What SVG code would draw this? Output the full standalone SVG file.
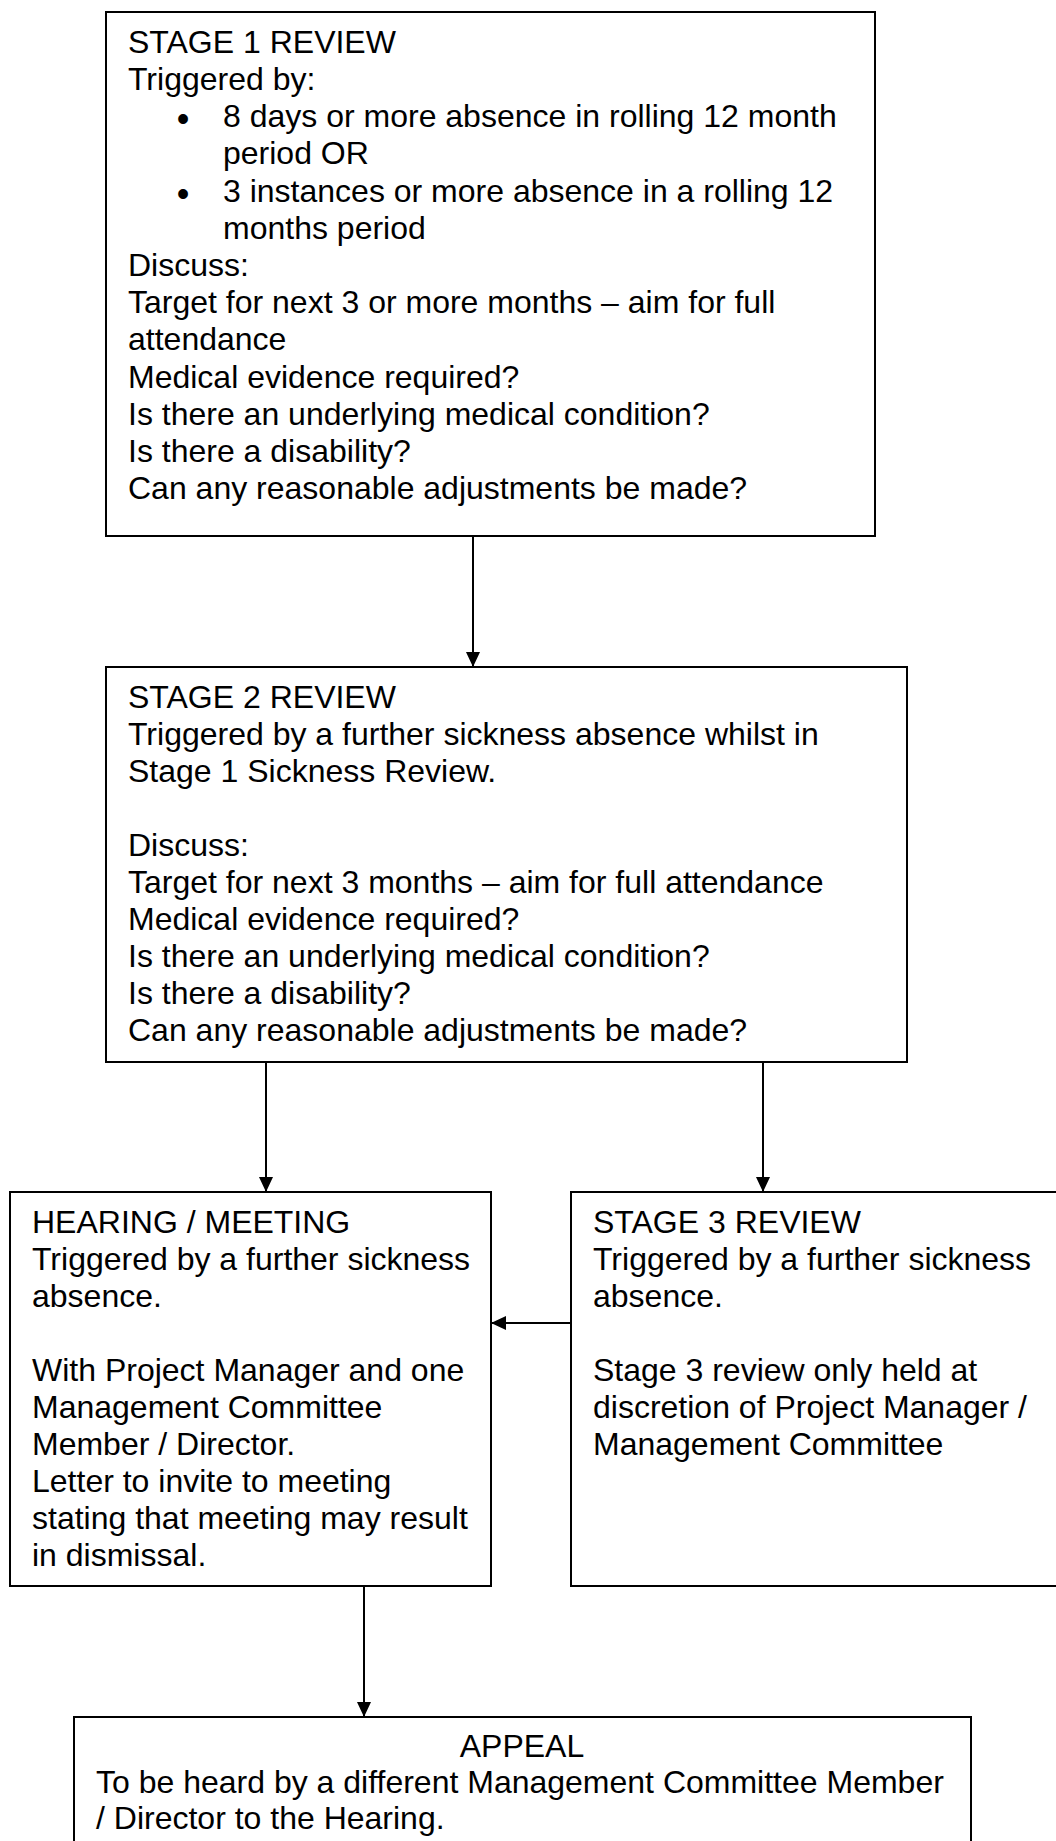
<svg xmlns="http://www.w3.org/2000/svg" width="1056" height="1841" viewBox="0 0 1056 1841">
<defs>
<style>
.box{fill:#fff;stroke:#000;stroke-width:2}
.t{font-family:"Liberation Sans",Arial,sans-serif;font-size:32px;fill:#000}
.c{text-anchor:middle}
.bul{font-family:"Liberation Sans",Arial,sans-serif;font-size:36px;fill:#000;text-anchor:middle}
.edge{stroke:#000;stroke-width:2;fill:none;marker-end:url(#ah)}
</style>
<marker id="ah" markerUnits="userSpaceOnUse" markerWidth="15" markerHeight="14" refX="15" refY="7" orient="auto">
<path d="M0,0 L15,7 L0,14 z" fill="#000"/>
</marker>
</defs>
<rect width="1056" height="1841" fill="#fff"/>
<g id="stage1">
<rect class="box" x="106" y="12" width="769" height="524"/>
<text class="t" x="128" y="53">STAGE 1 REVIEW</text>
<text class="t" x="128" y="90">Triggered by:</text>
<text class="bul" x="183" y="130.5">•</text>
<text class="t" x="223" y="127">8 days or more absence in rolling 12 month</text>
<text class="t" x="223" y="164">period OR</text>
<text class="bul" x="183" y="205.5">•</text>
<text class="t" x="223" y="202">3 instances or more absence in a rolling 12</text>
<text class="t" x="223" y="239">months period</text>
<text class="t" x="128" y="276">Discuss:</text>
<text class="t" x="128" y="313">Target for next 3 or more months – aim for full</text>
<text class="t" x="128" y="350">attendance</text>
<text class="t" x="128" y="388">Medical evidence required?</text>
<text class="t" x="128" y="425">Is there an underlying medical condition?</text>
<text class="t" x="128" y="462">Is there a disability?</text>
<text class="t" x="128" y="499">Can any reasonable adjustments be made?</text>
</g>
<g id="stage2">
<rect class="box" x="106" y="667" width="801" height="395"/>
<text class="t" x="128" y="708">STAGE 2 REVIEW</text>
<text class="t" x="128" y="745">Triggered by a further sickness absence whilst in</text>
<text class="t" x="128" y="782">Stage 1 Sickness Review.</text>
<text class="t" x="128" y="856">Discuss:</text>
<text class="t" x="128" y="893">Target for next 3 months – aim for full attendance</text>
<text class="t" x="128" y="930">Medical evidence required?</text>
<text class="t" x="128" y="967">Is there an underlying medical condition?</text>
<text class="t" x="128" y="1004">Is there a disability?</text>
<text class="t" x="128" y="1041">Can any reasonable adjustments be made?</text>
</g>
<g id="hearing">
<rect class="box" x="10" y="1192" width="481" height="394"/>
<text class="t" x="32" y="1233">HEARING / MEETING</text>
<text class="t" x="32" y="1270">Triggered by a further sickness</text>
<text class="t" x="32" y="1307">absence.</text>
<text class="t" x="32" y="1381">With Project Manager and one</text>
<text class="t" x="32" y="1418">Management Committee</text>
<text class="t" x="32" y="1455">Member / Director.</text>
<text class="t" x="32" y="1492">Letter to invite to meeting</text>
<text class="t" x="32" y="1529">stating that meeting may result</text>
<text class="t" x="32" y="1566">in dismissal.</text>
</g>
<g id="stage3">
<rect class="box" x="571" y="1192" width="500" height="394"/>
<text class="t" x="593" y="1233">STAGE 3 REVIEW</text>
<text class="t" x="593" y="1270">Triggered by a further sickness</text>
<text class="t" x="593" y="1307">absence.</text>
<text class="t" x="593" y="1381">Stage 3 review only held at</text>
<text class="t" x="593" y="1418">discretion of Project Manager /</text>
<text class="t" x="593" y="1455">Management Committee</text>
</g>
<g id="appeal">
<rect class="box" x="74" y="1717" width="897" height="140"/>
<text class="t c" x="522" y="1757">APPEAL</text>
<text class="t" x="96" y="1793">To be heard by a different Management Committee Member</text>
<text class="t" x="96" y="1829">/ Director to the Hearing.</text>
</g>
<g id="connectors">
<line class="edge" x1="473" y1="536" x2="473" y2="667"/>
<line class="edge" x1="266" y1="1062" x2="266" y2="1192"/>
<line class="edge" x1="763" y1="1062" x2="763" y2="1192"/>
<line class="edge" x1="571" y1="1323" x2="491" y2="1323"/>
<line class="edge" x1="364" y1="1586" x2="364" y2="1717"/>
</g>
</svg>
